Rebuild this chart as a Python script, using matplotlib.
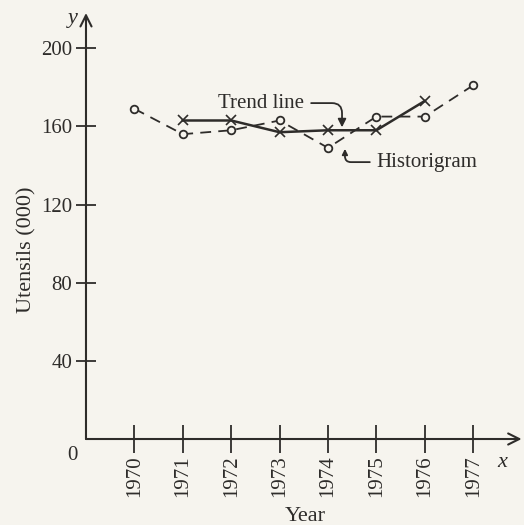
import matplotlib.pyplot as plt

# production of utensils ('000), yearly
years = [1970, 1971, 1972, 1973, 1974, 1975, 1976, 1977]
utensils = [169, 156, 158, 163, 149, 165, 165, 181]

# trend (moving average) values plotted at the middle years
trend_years = [1971, 1972, 1973, 1974, 1975, 1976]
trend = [163, 163, 157, 158, 158, 173]

y_ticks = [40, 80, 120, 160, 200]

ink = '#2e2c2a'
paper = '#f6f4ee'
plt.rcParams['font.family'] = ['Liberation Serif', 'DejaVu Serif']

fig = plt.figure(figsize=(5.24, 5.25), dpi=100, facecolor=paper)
ax = fig.add_axes([0.1641, 0.1638, 0.8313, 0.8114], facecolor=paper)
ax.set_xlim(1969, 1978.0)
ax.set_ylim(0, 218)

for s in ax.spines.values():
    s.set_visible(False)

# axes drawn as arrows
ax.annotate('', xy=(1978.0, 0), xytext=(1969, 0),
            arrowprops=dict(arrowstyle='->', lw=1.5, color=ink, mutation_scale=20,
                            shrinkA=0, shrinkB=0), annotation_clip=False)
ax.annotate('', xy=(1969, 218), xytext=(1969, 0),
            arrowprops=dict(arrowstyle='->', lw=1.5, color=ink, mutation_scale=20,
                            shrinkA=0, shrinkB=0), annotation_clip=False)

ax.set_xticks(years)
ax.set_xticklabels([str(y) for y in years], rotation=90, va='top')
ax.set_yticks(y_ticks)
ax.tick_params(axis='x', direction='inout', length=20, width=1.3, color=ink,
               labelcolor=ink, labelsize=15, pad=2)
ax.tick_params(axis='y', direction='inout', length=14, width=1.3, color=ink,
               labelcolor=ink, labelsize=15, pad=3)

# historigram and trend line
ax.plot(years, utensils, color=ink, lw=1.3, ls=(0, (6, 4)), marker='o', ms=5.5,
        mfc=paper, mec=ink, mew=1.3, clip_on=False)
ax.plot(trend_years, trend, color=ink, lw=1.8, marker='x', ms=7, mew=1.2,
        clip_on=False)

ax.annotate('Trend line', xy=(1974.29, 159.5), xytext=(1972.62, 171.9),
            ha='center', va='center', fontsize=15, color=ink,
            arrowprops=dict(arrowstyle='-|>', color=ink, lw=1.3, mutation_scale=12,
                            relpos=(1, 0.5), shrinkA=3, shrinkB=0,
                            connectionstyle='angle,angleA=0,angleB=90,rad=10'))
ax.annotate('Historigram', xy=(1974.35, 148.5), xytext=(1976.05, 141.7),
            ha='center', va='center', fontsize=15, color=ink,
            arrowprops=dict(arrowstyle='-|>', color=ink, lw=1.3, mutation_scale=8,
                            relpos=(0, 0.5), shrinkA=3, shrinkB=0,
                            connectionstyle='angle,angleA=180,angleB=90,rad=6'))

ax.text(1968.73, 215, 'y', style='italic', fontsize=16, color=ink, ha='center',
        va='center', clip_on=False)
ax.text(1977.6, -12, 'x', style='italic', fontsize=16, color=ink, ha='center',
        va='center', clip_on=False)
ax.text(1968.71, -8.5, '0', fontsize=15, color=ink, ha='center', va='center',
        clip_on=False)
ax.text(1973.52, -39.6, 'Year', fontsize=16, color=ink, ha='center', va='center',
        clip_on=False)
ax.text(1967.78, 97, 'Utensils (000)', fontsize=16, color=ink, ha='center',
        va='center', rotation=90, clip_on=False)

fig.savefig('out.png', dpi=100, facecolor=paper)
